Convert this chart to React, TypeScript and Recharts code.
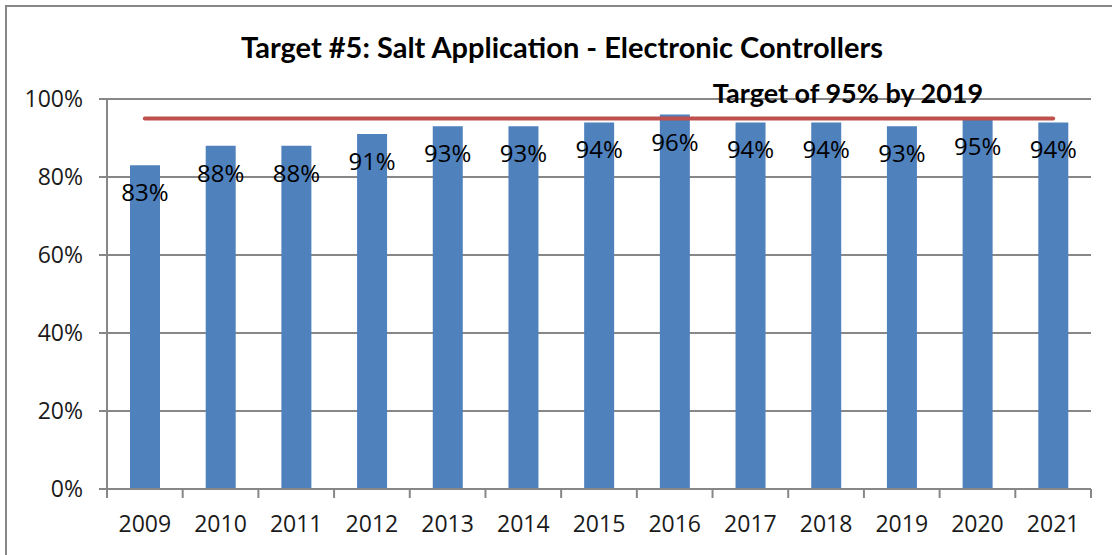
import { ComposedChart, Bar, Line, XAxis, YAxis, CartesianGrid, LabelList } from 'recharts';

const years = ['2009', '2010', '2011', '2012', '2013', '2014', '2015', '2016', '2017', '2018', '2019', '2020', '2021'];
const percentControlled = [83, 88, 88, 91, 93, 93, 94, 96, 94, 94, 93, 95, 94];
const targetPercent = [95, 95, 95, 95, 95, 95, 95, 95, 95, 95, 95, 95, 95];
const yTicks = [0, 20, 40, 60, 80, 100];

const data = years.map((year, i) => ({
  year,
  value: percentControlled[i],
  target: targetPercent[i],
}));

const AXIS_GRAY = '#878787';
const TITLE_FONT = 'Lato, "Noto Sans", sans-serif';
const NUM_FONT = '"Open Sans", "Noto Sans", sans-serif';

// category labels with tick marks on the band edges, like Excel
function YearTick(props: any) {
  const { x, y, payload, width, visibleTicksCount, index } = props;
  const band = width && visibleTicksCount ? width / visibleTicksCount : 0;
  return (
    <g>
      {band > 0 && <line x1={x - band / 2} x2={x - band / 2} y1={y} y2={y + 9} stroke={AXIS_GRAY} strokeWidth={2} />}
      {band > 0 && index === visibleTicksCount - 1 && (
        <line x1={x + band / 2} x2={x + band / 2} y1={y} y2={y + 9} stroke={AXIS_GRAY} strokeWidth={2} />
      )}
      <text x={x} y={y + 27} dy="0.71em" textAnchor="middle" fill="#1a1a1a" fontSize={23} fontFamily={NUM_FONT}>
        {payload.value}
      </text>
    </g>
  );
}

export default function App() {
  return (
    <div
      style={{
        position: 'absolute',
        left: 5,
        top: 5,
        width: 1200,
        height: 600,
        border: `2px solid ${AXIS_GRAY}`,
        background: '#fff',
        fontFamily: TITLE_FONT,
      }}
    >
      <div
        style={{
          position: 'absolute',
          left: 0,
          width: 1110,
          top: 22,
          textAlign: 'center',
          fontWeight: 700,
          fontSize: 29,
          color: '#000',
        }}
      >
        Target #5: Salt Application - Electronic Controllers
      </div>
      <div
        style={{
          position: 'absolute',
          left: 641,
          width: 400,
          top: 69,
          textAlign: 'center',
          fontWeight: 700,
          fontSize: 27,
          color: '#000',
          zIndex: 2,
        }}
      >
        Target of 95% by 2019
      </div>
      <ComposedChart
        width={1100}
        height={548}
        data={data}
        margin={{ top: 92, right: 16, bottom: 26, left: 0 }}
        barCategoryGap={0}
      >
        <CartesianGrid vertical={false} stroke={AXIS_GRAY} strokeWidth={2} />
        <XAxis
          dataKey="year"
          height={40}
          axisLine={{ stroke: AXIS_GRAY, strokeWidth: 2 }}
          tickLine={false}
          tickSize={0}
          tickMargin={0}
          interval={0}
          tick={<YearTick />}
        />
        <YAxis
          width={100}
          domain={[0, 100]}
          ticks={yTicks}
          tickFormatter={(v) => `${v}%`}
          axisLine={{ stroke: AXIS_GRAY, strokeWidth: 2 }}
          tickLine={{ stroke: AXIS_GRAY, strokeWidth: 2 }}
          tickSize={8}
          tickMargin={16}
          tick={{ fill: '#1a1a1a', fontSize: 23, fontFamily: NUM_FONT }}
        />
        <Bar dataKey="value" fill="#4F81BD" barSize={30} isAnimationActive={false}>
          <LabelList
            dataKey="value"
            position="insideTop"
            offset={19}
            formatter={(v: any) => `${v}%`}
            style={{ fill: '#000', fontSize: 24, fontFamily: NUM_FONT }}
          />
        </Bar>
        <Line
          dataKey="target"
          stroke="#C0504D"
          strokeWidth={4}
          strokeLinecap="round"
          dot={false}
          activeDot={false}
          isAnimationActive={false}
        />
      </ComposedChart>
    </div>
  );
}
